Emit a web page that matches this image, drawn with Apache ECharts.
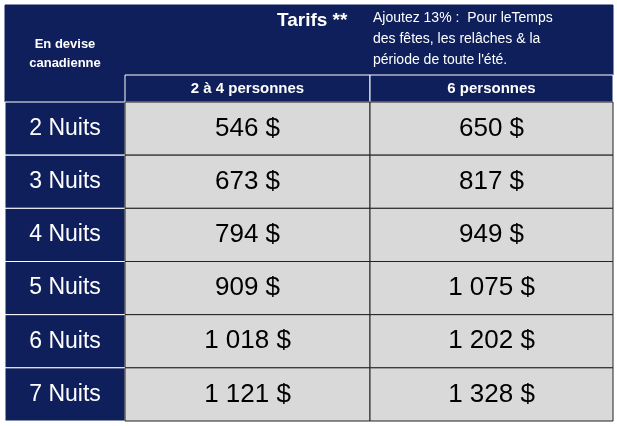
<!DOCTYPE html>
<html><head><meta charset="utf-8">
<script src="https://cdn.jsdelivr.net/npm/echarts@6/dist/echarts.min.js"></script>
<style>html,body{margin:0;padding:0;background:#fff}#c{width:617px;height:426px}</style>
</head><body><div id="c"></div>
<script>
const rowLabels = ['2 Nuits','3 Nuits','4 Nuits','5 Nuits','6 Nuits','7 Nuits'];
const colLabels = ['2 à 4 personnes','6 personnes'];
const prices2to4 = ['546 $','673 $','794 $','909 $','1 018 $','1 121 $'];
const prices6 = ['650 $','817 $','949 $','1 075 $','1 202 $','1 328 $'];
const cornerLabel = 'En devise\ncanadienne';
const titleLabel = 'Tarifs **';
const noteLabel = 'Ajoutez 13% :  Pour leTemps\ndes fêtes, les relâches & la\npériode de toute l\'été.';

const NAVY = '#0e1f5b', GREY = '#d9d9d9';
const colEdges = [0, 120, 365, 608];
const headMid = 70, headBot = 97, rowH = (416 - 97) / 6;
const rowEdge = i => headBot + i * rowH;

const cells = [];
cells.push({x0:0,x1:120,y0:0,y1:headBot,fill:NAVY,text:cornerLabel,color:'#fff',size:13,bold:true});
cells.push({x0:120,x1:608,y0:0,y1:headMid,fill:NAVY,text:'',color:'#fff',
  extra:[{text:titleLabel,dx:152,dy:4,size:19,bold:true,lh:24},{text:noteLabel,dx:248,dy:3,size:14,lh:21}]});
colLabels.forEach((c,j)=>cells.push({x0:colEdges[j+1],x1:colEdges[j+2],y0:headMid,y1:headBot,fill:NAVY,text:c,color:'#fff',size:15,bold:true,line:'#fff'}));
rowLabels.forEach((r,i)=>{
  cells.push({x0:0,x1:120,y0:rowEdge(i),y1:rowEdge(i+1),fill:NAVY,text:r,color:'#fff',size:23,line:'#fff'});
  cells.push({x0:120,x1:365,y0:rowEdge(i),y1:rowEdge(i+1),fill:GREY,text:prices2to4[i],color:'#000',size:26,line:'#222'});
  cells.push({x0:365,x1:608,y0:rowEdge(i),y1:rowEdge(i+1),fill:GREY,text:prices6[i],color:'#000',size:26,line:'#222'});
});

const chart = echarts.init(document.getElementById('c'));
chart.setOption({
  animation:false,
  grid:{left:5,top:5,width:608,height:416},
  xAxis:{type:'value',min:0,max:608,show:false},
  yAxis:{type:'value',min:0,max:416,inverse:true,show:false},
  series:[{
    type:'custom',
    data:cells.map((c,i)=>[c.x0,c.y0,c.x1,c.y1,i]),
    renderItem:(params,api)=>{
      const c = cells[api.value(4)];
      const p0 = api.coord([api.value(0),api.value(1)]);
      const p1 = api.coord([api.value(2),api.value(3)]);
      const children = [{type:'rect',shape:{x:p0[0],y:p0[1],width:p1[0]-p0[0],height:p1[1]-p0[1]},
        style:{fill:c.fill,stroke:c.line||NAVY,lineWidth:1}}];
      if(c.text) children.push({type:'text',style:{text:c.text,x:(p0[0]+p1[0])/2,y:(p0[1]+p1[1])/2,
        align:'center',verticalAlign:'middle',fill:c.color,font:(c.bold?'bold ':'')+c.size+'px Arial, "Liberation Sans"',lineHeight:c.size+6}});
      (c.extra||[]).forEach(e=>children.push({type:'text',style:{text:e.text,x:p0[0]+e.dx,y:p0[1]+e.dy,
        align:'left',verticalAlign:'top',fill:'#fff',font:(e.bold?'bold ':'')+e.size+'px Arial, "Liberation Sans"',lineHeight:e.lh}}));
      return {type:'group',children};
    }
  }]
});
</script></body></html>
